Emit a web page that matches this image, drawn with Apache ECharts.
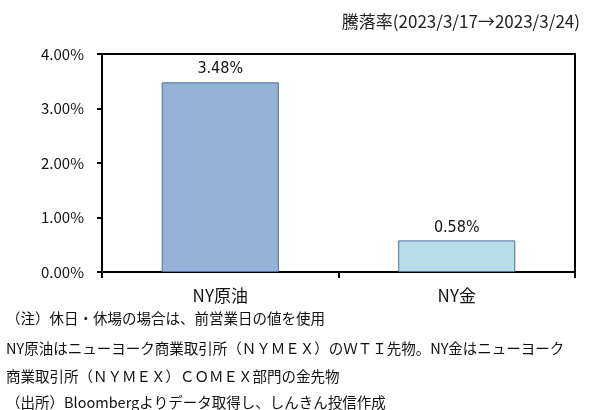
<!DOCTYPE html>
<html>
<head>
<meta charset="utf-8">
<script src="https://cdn.jsdelivr.net/npm/echarts@6/dist/echarts.min.js"></script>
<style>html,body{margin:0;padding:0;background:#fff;}#c{width:598px;height:410px;}</style>
</head>
<body>
<div id="c"></div>
<script>
const categories = ['NY原油', 'NY金'];
const values = [3.48, 0.58];
const yTicks = [0, 1, 2, 3, 4];
const titleText = '騰落率(2023/3/17→2023/3/24)';
const notes = [
  '（注）休日・休場の場合は、前営業日の値を使用',
  'NY原油はニューヨーク商業取引所（ＮＹＭＥＸ）のＷＴＩ先物。NY金はニューヨーク',
  '商業取引所（ＮＹＭＥＸ）ＣＯＭＥＸ部門の金先物',
  '（出所）Bloombergよりデータ取得し、しんきん投信作成'
];
const barColors = ['#95B3D7', '#B7DEE8'];

const font = '"Noto Sans CJK JP", "Noto Sans", sans-serif';
const narrow = '"Liberation Sans Narrow", "DejaVu Sans Condensed", "Noto Sans", sans-serif';
const chart = echarts.init(document.getElementById('c'));
const noteY = [320, 350, 378, 404];
const frameAxis = {show: true, axisLine: {show: true, onZero: false, lineStyle: {color: '#000', width: 2}}, axisTick: {show: false}, axisLabel: {show: false}, splitLine: {show: false}};
chart.setOption({
  animation: false,
  backgroundColor: '#fff',
  title: {
    text: titleText,
    right: 13, top: 8,
    textStyle: {fontSize: 17, fontWeight: 'normal', color: '#222', fontFamily: font}
  },
  grid: {left: 102, right: 23, top: 54, bottom: 138, containLabel: false},
  xAxis: [{
    type: 'category',
    data: categories,
    axisLine: {lineStyle: {color: '#000', width: 2}},
    axisTick: {show: true, length: 6, lineStyle: {color: '#000', width: 2}},
    axisLabel: {color: '#111', fontSize: 17, margin: 15, fontFamily: font}
  }, Object.assign({type: 'category', data: categories, position: 'top'}, frameAxis)],
  yAxis: [{
    type: 'value',
    min: yTicks[0], max: yTicks[yTicks.length - 1], interval: 1,
    axisLine: {show: true, lineStyle: {color: '#000', width: 2}},
    axisTick: {show: true, length: 5, lineStyle: {color: '#000', width: 2}},
    splitLine: {show: false},
    axisLabel: {color: '#111', fontSize: 15, margin: 18, fontFamily: font, formatter: v => v.toFixed(2) + '%'}
  }, Object.assign({type: 'value', min: yTicks[0], max: yTicks[yTicks.length - 1], interval: 1, position: 'right'}, frameAxis)],
  series: [{
    type: 'bar',
    barWidth: '49.5%',
    data: values.map((v, i) => ({value: v, itemStyle: {color: barColors[i]}})),
    itemStyle: {borderColor: '#4F6F9F', borderWidth: 1},
    label: {show: true, position: 'top', distance: 5, color: '#111', fontSize: 16, fontFamily: narrow, formatter: p => p.value.toFixed(2) + '%'}
  }],
  graphic: notes.map((t, i) => ({
    type: 'text', left: 6, top: noteY[i] - 9,
    style: {text: t, fill: '#111', font: '14.5px ' + font}
  }))
});
</script>
</body>
</html>
